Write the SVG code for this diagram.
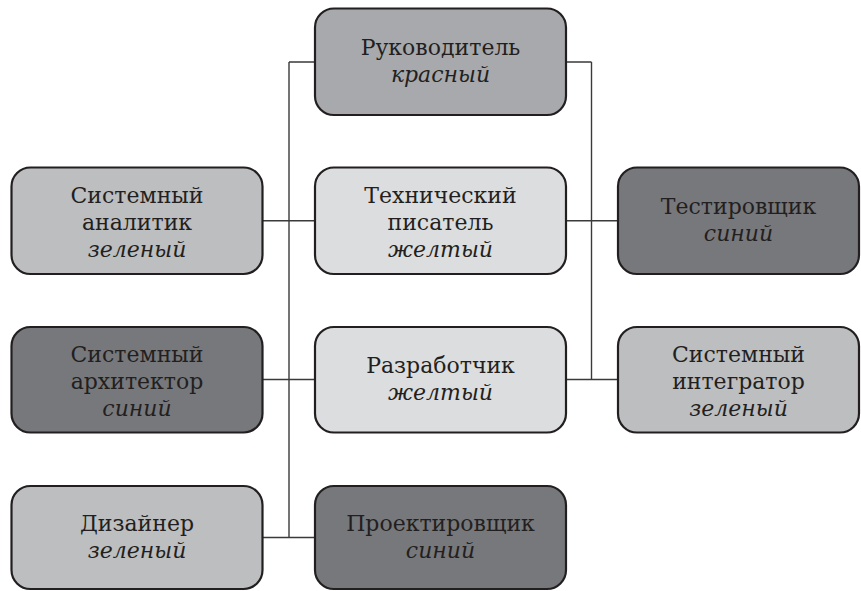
<svg xmlns="http://www.w3.org/2000/svg" width="861" height="591" viewBox="0 0 861 591">
<style>
.box{stroke:#231f20;stroke-width:2.2}
.c1{fill:#a7a9ac}.c2{fill:#bcbec0}.c3{fill:#dcddde}.c4{fill:#77787b}
.t{font-family:"DejaVu Serif","Liberation Serif",serif;font-size:22px;fill:#231f20;text-anchor:middle}
.i{font-style:italic}
.ln{stroke:#3a3a3a;stroke-width:1.4;fill:none}
</style>
<rect width="861" height="591" fill="#fff"/>
<g id="connectors" class="ln">
<path d="M289,62 H315 M566,62 H591.5 M289,62 V537.5 M591.5,62 V379.5"/>
<path d="M262.5,220.75 H315 M566,220.75 H618"/>
<path d="M262.5,379.5 H315 M566,379.5 H618"/>
<path d="M262.5,537.5 H315"/>
</g>
<g id="rukovoditel">
<rect class="box c1" x="315" y="8.5" width="251" height="106.5" rx="19"/>
<text class="t" x="440.5" y="55">Руководитель</text>
<text class="t i" x="440.5" y="82">красный</text>
</g>
<g id="analitik">
<rect class="box c2" x="11.5" y="167.5" width="251" height="106.5" rx="19"/>
<text class="t" x="137" y="203">Системный</text>
<text class="t" x="137" y="230">аналитик</text>
<text class="t i" x="137" y="257">зеленый</text>
</g>
<g id="pisatel">
<rect class="box c3" x="315" y="167.5" width="251" height="106.5" rx="19"/>
<text class="t" x="440.5" y="203">Технический</text>
<text class="t" x="440.5" y="230">писатель</text>
<text class="t i" x="440.5" y="257">желтый</text>
</g>
<g id="testirovshik">
<rect class="box c4" x="618" y="167.5" width="241" height="106.5" rx="19"/>
<text class="t" x="738.5" y="214">Тестировщик</text>
<text class="t i" x="738.5" y="241">синий</text>
</g>
<g id="arhitektor">
<rect class="box c4" x="11.5" y="327" width="251" height="105.5" rx="19"/>
<text class="t" x="137" y="361.5">Системный</text>
<text class="t" x="137" y="388.5">архитектор</text>
<text class="t i" x="137" y="415.5">синий</text>
</g>
<g id="razrabotchik">
<rect class="box c3" x="315" y="327" width="251" height="105.5" rx="19"/>
<text class="t" x="440.5" y="372.5">Разработчик</text>
<text class="t i" x="440.5" y="399.5">желтый</text>
</g>
<g id="integrator">
<rect class="box c2" x="618" y="327" width="241" height="105.5" rx="19"/>
<text class="t" x="738.5" y="361.5">Системный</text>
<text class="t" x="738.5" y="388.5">интегратор</text>
<text class="t i" x="738.5" y="415.5">зеленый</text>
</g>
<g id="dizainer">
<rect class="box c2" x="11.5" y="486" width="251" height="103" rx="19"/>
<text class="t" x="137" y="530.5">Дизайнер</text>
<text class="t i" x="137" y="557.5">зеленый</text>
</g>
<g id="proektirovshik">
<rect class="box c4" x="315" y="486" width="251" height="103" rx="19"/>
<text class="t" x="440.5" y="530.5">Проектировщик</text>
<text class="t i" x="440.5" y="557.5">синий</text>
</g>
</svg>
